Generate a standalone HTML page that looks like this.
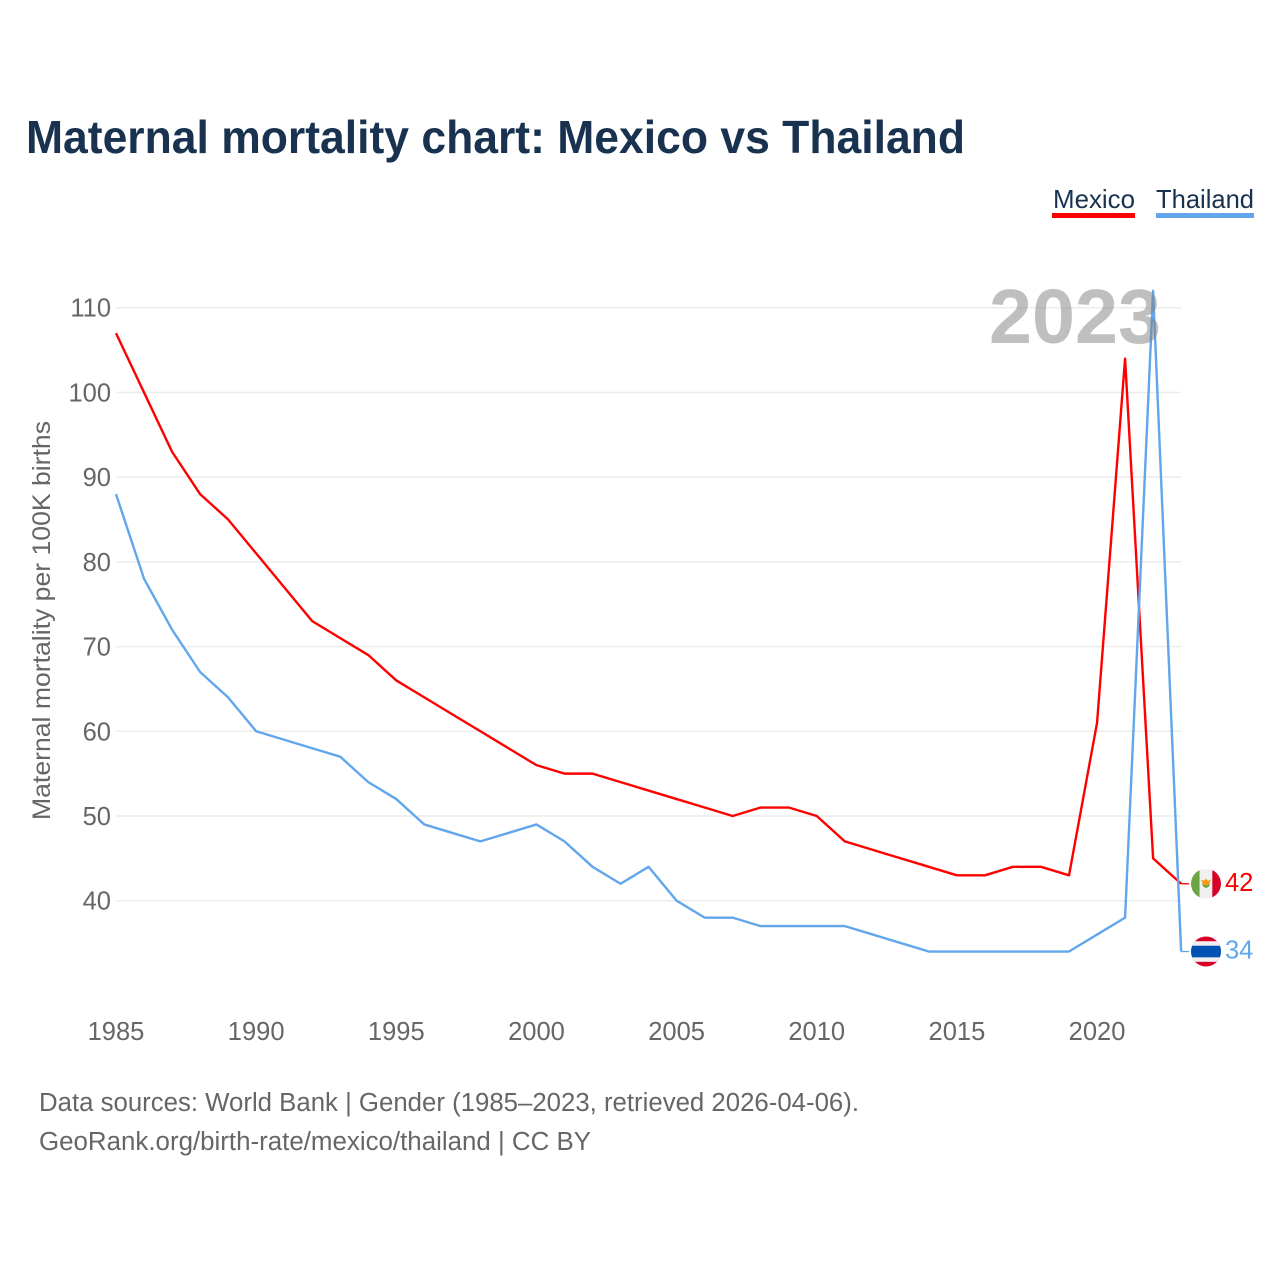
<!DOCTYPE html>
<html lang="en">
<head>
<meta charset="utf-8">
<title>Maternal mortality chart: Mexico vs Thailand</title>
<style>
html,body{margin:0;padding:0;background:#fff;}
svg{display:block;font-family:"Liberation Sans",sans-serif;}
</style>
</head>
<body>
<svg id="chart" xmlns="http://www.w3.org/2000/svg" width="1280" height="1280" viewBox="0 0 1280 1280">
  <rect x="0" y="0" width="1280" height="1280" fill="#fff"/>
  <text x="26" y="153" font-size="46" font-weight="700" fill="#18324f" textLength="939" lengthAdjust="spacingAndGlyphs">Maternal mortality chart: Mexico vs Thailand</text>

  <g>
    <text x="1053" y="208" font-size="26" fill="#18324f" textLength="82" lengthAdjust="spacingAndGlyphs">Mexico</text>
    <rect x="1052" y="213" width="83" height="5" fill="#ff0000"/>
  </g>
  <g>
    <text x="1156" y="208" font-size="26" fill="#18324f" textLength="98" lengthAdjust="spacingAndGlyphs">Thailand</text>
    <rect x="1156" y="213" width="98" height="5" fill="#62a6ec"/>
  </g>

  <g id="grid"></g>
  <g id="yticks"></g>
  <g id="xticks"></g>
  <text transform="translate(50,820) rotate(-90)" font-size="25" fill="#666" textLength="399" lengthAdjust="spacingAndGlyphs">Maternal mortality per 100K births</text>

  <g id="series"></g>

  <text x="989" y="343" font-size="77" font-weight="700" fill="#808080" fill-opacity="0.5" textLength="172" lengthAdjust="spacingAndGlyphs">2023</text>

  <defs>
    <clipPath id="clip-mx"><circle cx="0" cy="0" r="15"/></clipPath>
    <clipPath id="clip-th"><circle cx="0" cy="0" r="15"/></clipPath>
  </defs>

  <g id="flag-mexico">
    <g clip-path="url(#clip-mx)">
      <rect x="-15" y="-15" width="8.7" height="30" fill="#6da544"/>
      <rect x="-6.3" y="-15" width="12.6" height="30" fill="#f0f0f0"/>
      <rect x="6.3" y="-15" width="8.7" height="30" fill="#d80027"/>
      <circle cx="0" cy="0.5" r="3.6" fill="#6da544"/>
      <path d="M-5 -4 L-2 -3 L0 -5 L2 -3 L5 -4 L3 0 L1.5 1.5 L-1.5 1.5 L-3 0 Z" fill="#ff9811"/>
    </g>
  </g>
  <g id="flag-thailand">
    <g clip-path="url(#clip-th)">
      <rect x="-15" y="-15" width="30" height="30" fill="#d80027"/>
      <rect x="-15" y="-10.3" width="30" height="20.6" fill="#f0f0f0"/>
      <rect x="-15" y="-5.8" width="30" height="11.6" fill="#0052b4"/>
    </g>
  </g>

  <text x="39" y="1111" font-size="25.5" fill="#666" textLength="820" lengthAdjust="spacingAndGlyphs">Data sources: World Bank | Gender (1985–2023, retrieved 2026-04-06).</text>
  <text x="39" y="1150" font-size="25.5" fill="#666" textLength="552" lengthAdjust="spacingAndGlyphs">GeoRank.org/birth-rate/mexico/thailand | CC BY</text>
</svg>

<script>
const years = [1985,1986,1987,1988,1989,1990,1991,1992,1993,1994,1995,1996,1997,1998,1999,2000,2001,2002,2003,2004,2005,2006,2007,2008,2009,2010,2011,2012,2013,2014,2015,2016,2017,2018,2019,2020,2021,2022,2023];
const mexicoValues = [107,100,93,88,85,81,77,73,71,69,66,64,62,60,58,56,55,55,54,53,52,51,50,51,51,50,47,46,45,44,43,43,44,44,43,61,104,45,42];
const thailandValues = [88,78,72,67,64,60,59,58,57,54,52,49,48,47,48,49,47,44,42,44,40,38,38,37,37,37,37,36,35,34,34,34,34,34,34,36,38,112,34];
const yTickValues = [40,50,60,70,80,90,100,110];
const xTickValues = [1985,1990,1995,2000,2005,2010,2015,2020];

const NS = 'http://www.w3.org/2000/svg';
function xScale(year){ return 116 + (year - 1985) * 28.03; }
function yScale(value){ return 900.7 - (value - 40) * 8.471; }
function make(tag, attrs, parent){
  const el = document.createElementNS(NS, tag);
  for (const k in attrs) el.setAttribute(k, attrs[k]);
  parent.appendChild(el);
  return el;
}

const gridGroup = document.getElementById('grid');
const yTickGroup = document.getElementById('yticks');
const xTickGroup = document.getElementById('xticks');
const seriesGroup = document.getElementById('series');

yTickValues.forEach(function(v){
  const line = make('line', {x1: 116, x2: 1181, y1: yScale(v), y2: yScale(v), stroke: '#ececec', 'stroke-width': 1.5}, gridGroup);
  
  
  const label = make('text', {x: 111, y: yScale(v) + 9, 'text-anchor': 'end', 'font-size': 25.5, fill: '#666'}, yTickGroup);
  
  
  label.textContent = v;
});

xTickValues.forEach(function(yr){
  const label = make('text', {x: xScale(yr), y: 1040, 'text-anchor': 'middle', 'font-size': 25.5, fill: '#666'}, xTickGroup);
  
  
  label.textContent = yr;
});

function drawSeries(name, values, color){
  const pts = values.map(function(v, i){ return xScale(years[i]).toFixed(2) + ',' + yScale(v).toFixed(2); }).join(' ');
  const line = make('polyline', {points: pts, fill: 'none', stroke: color, 'stroke-width': 2.4, 'stroke-linejoin': 'round'}, seriesGroup);
  
  

  const last = values[values.length - 1];
  const lastX = xScale(years[years.length - 1]);
  const lastY = yScale(last);
  const connector = make('line', {x1: lastX, x2: lastX + 8, y1: lastY, y2: lastY, stroke: color, 'stroke-width': 1.3}, seriesGroup);
  
  

  const label = make('text', {x: 1225, y: lastY + 7, 'font-size': 25.5, fill: color}, seriesGroup);
  
  
  label.textContent = last;
  return lastY;
}

const mxY = drawSeries('mexico', mexicoValues, '#ff0000');
const thY = drawSeries('thailand', thailandValues, '#62a6ec');

document.getElementById('flag-mexico').setAttribute('transform', 'translate(1206,' + mxY + ')');
document.getElementById('flag-thailand').setAttribute('transform', 'translate(1206,' + thY + ')');
</script>
</body>
</html>
